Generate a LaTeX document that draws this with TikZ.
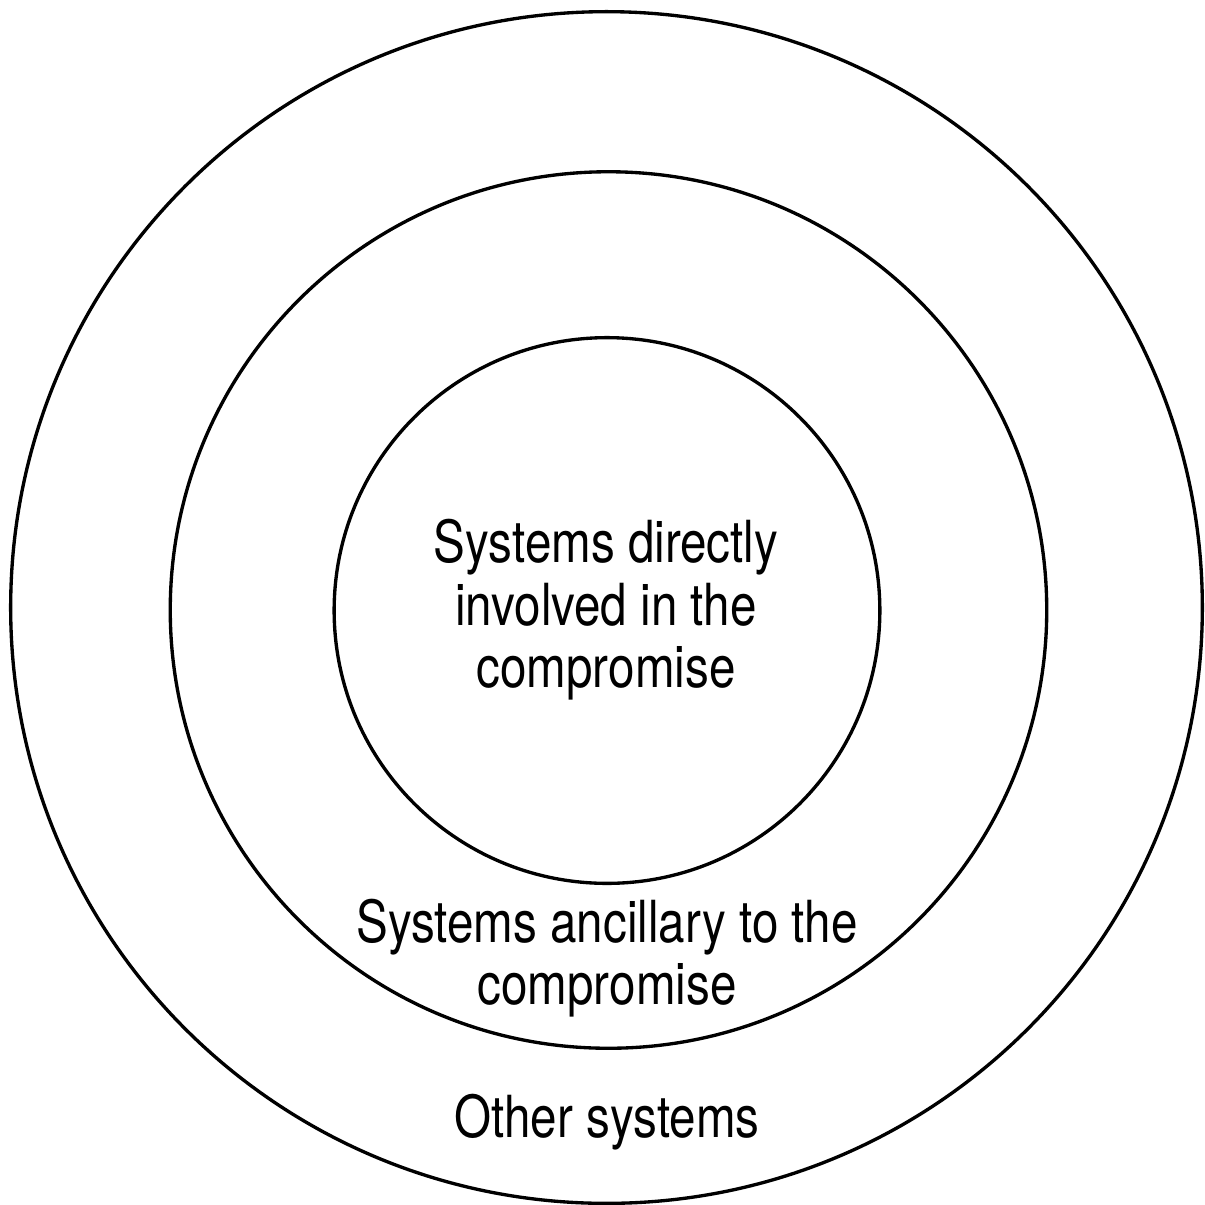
\documentclass[tikz,border=0pt]{standalone}
\usepackage{fontspec}
\setmainfont{TeX Gyre Heros}[FakeStretch=0.82]
\begin{document}
\begin{tikzpicture}[x=0.01cm,y=-0.01cm,
  ring/.style={draw=black,line width=0.95pt},
  lbl/.style={font=\fontsize{16.5}{17.8}\selectfont,align=center,inner sep=0pt}]
\useasboundingbox (0,0) rectangle (1205,1205);
\draw[ring] (606.5,607.5) circle[radius=5.955cm];
\draw[ring] (608.5,610) circle[radius=4.38cm];
\draw[ring] (607,610.5) circle[radius=2.727cm];
\node[lbl] (inner) at (606,610) {Systems directly\\involved in the\\compromise};
\node[lbl] (middle) at (607,958) {Systems ancillary to the\\compromise};
\node[lbl,anchor=base] (outer) at (607,1137) {Other systems};
\end{tikzpicture}
\end{document}
